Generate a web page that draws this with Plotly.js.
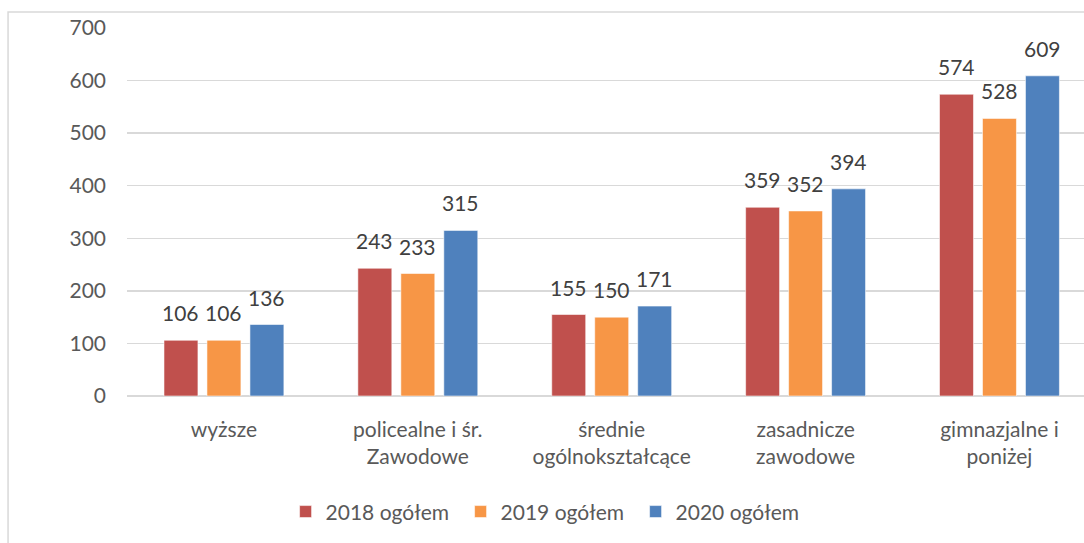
<!DOCTYPE html>
<html><head><meta charset="utf-8">
<script src="https://cdn.plot.ly/plotly-3.0.1.min.js"></script>
<style>html,body{margin:0;padding:0;background:#fff;}#chart{width:1084px;height:543px;}</style>
</head><body><div id="chart"></div>
<script>
const categories = ["wyższe", "policealne i śr.<br>Zawodowe", "średnie<br>ogólnokształcące", "zasadnicze<br>zawodowe", "gimnazjalne i<br>poniżej"];
const seriesNames = ["2018 ogółem", "2019 ogółem", "2020 ogółem"];
const values2018 = [106, 243, 155, 359, 574];
const values2019 = [106, 233, 150, 352, 528];
const values2020 = [136, 315, 171, 394, 609];
const colors = ["#C0504D", "#F79646", "#4F81BD"];
const yTicks = [0, 100, 200, 300, 400, 500, 600, 700];

const FONT = "Lato, 'Liberation Sans', Arial, sans-serif";
const allValues = [values2018, values2019, values2020];
const bargap = 0.335;
const idx = categories.map((c, i) => i);

const traces = allValues.map((vals, s) => ({
  type: "bar",
  name: seriesNames[s],
  x: idx,
  y: vals,
  marker: {color: colors[s], line: {color: "rgba(255,255,255,0.55)", width: 1}},
  hoverinfo: "skip"
}));

const annotations = [];
allValues.forEach((vals, s) => {
  vals.forEach((v, i) => {
    annotations.push({
      x: i + (s - 1) * (1 - bargap) / 3, y: v, xref: "x", yref: "y",
      text: String(v), showarrow: false, yanchor: "bottom", yshift: 13,
      font: {family: FONT, size: 21, color: "#404040"}
    });
  });
});

const layout = {
  width: 1084, height: 543,
  margin: {l: 127, r: 0, t: 28, b: 147},
  paper_bgcolor: "#fff", plot_bgcolor: "#fff",
  barmode: "group", bargap: bargap, bargroupgap: 0.21,
  font: {family: FONT, size: 21, color: "#595959"},
  xaxis: {
    tickmode: "array", tickvals: idx, ticktext: categories,
    range: [-0.5, 4.436], showgrid: false, zeroline: false,
    showline: false, ticks: "", ticklabelstandoff: 19,
    tickfont: {family: FONT, size: 21, color: "#595959"}
  },
  yaxis: {
    range: [0, 700], tickmode: "array", tickvals: yTicks,
    gridcolor: "#d9d9d9", gridwidth: 1.5, zeroline: true, zerolinecolor: "#d9d9d9", zerolinewidth: 1.5,
    showline: false, ticks: "", ticklabelstandoff: 20,
    tickfont: {family: FONT, size: 21, color: "#595959"}
  },
  legend: {
    orientation: "h", x: 0.44, xanchor: "center", y: -0.315, yanchor: "middle",
    font: {family: FONT, size: 21, color: "#595959"}, itemwidth: 30, traceorder: "normal",
    entrywidth: 130
  },
  showlegend: true,
  annotations: annotations,
  shapes: [{
    type: "rect", xref: "paper", yref: "paper",
    x0: -0.1243, x1: 1.01, y0: -0.41, y1: 1.0435,
    line: {color: "#d9d9d9", width: 1.5}, fillcolor: "rgba(0,0,0,0)", layer: "below"
  }]
};

Plotly.newPlot("chart", traces, layout, {displayModeBar: false, staticPlot: true});
</script></body></html>
